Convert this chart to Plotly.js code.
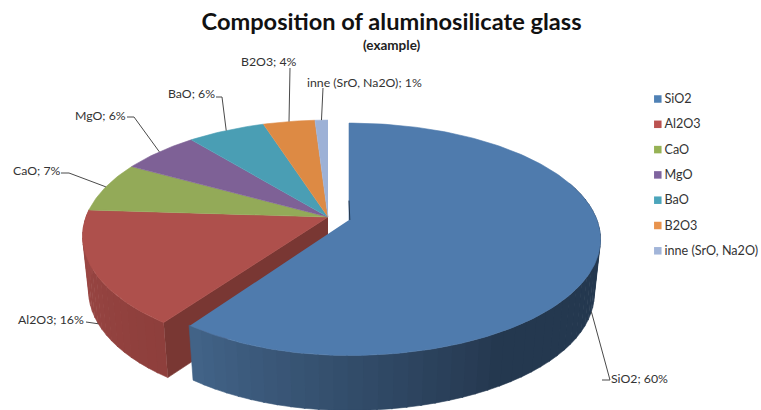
<!DOCTYPE html>
<html><head><meta charset="utf-8">
<script src="https://cdn.plot.ly/plotly-3.0.1.min.js"></script>
<style>html,body{margin:0;padding:0;background:#fff}#c{width:761px;height:410px}</style>
</head><body><div id="c"></div>
<script>
const categories=['SiO2','Al2O3','CaO','MgO','BaO','B2O3','inne (SrO, Na2O)'];
const values=[60,16,7,6,6,4,1];
const topColors=['#4f7bad','#ae504c','#93aa58','#7e6196','#4a9eb4','#dd8a44','#9db1d6'];
const legendColors=['#4f81b5','#bb5250','#96b255','#7f649f','#4ba5bb','#e8934d','#a2b5d9'];
// label box left / centre, elbow point, for each slice (placement only)
const labelX=[610,16.5,11.5,73.5,166.5,240,306];
const labelY=[378,319,170,115,93,61.5,82];
const elbowX=[602,86,61,127,216,290,323];
const elbowY=[380,322,173,117,97,68,88];
const elbowEnd=[610,86,69,134,222,290,323];

const FONT='Lato, "Open Sans", sans-serif', TXT='#333333';
const cx=328, cy=217, K=0.166, S=113, D=55, SHRINK=0.975;
const EX=21, EY=3;           // offset of the pulled-out first slice
const rad=d=>d*Math.PI/180;
function proj(deg,first){
  const u=Math.sin(rad(deg)), v=Math.cos(rad(deg)), w=1+K*v;
  const R=first?(u<0?234:248):242;
  return [(first?cx+EX:cx)+R*u/w, (first?cy+EY:cy)-S*v/w];
}
function low(p,first){
  const ax=first?cx+EX:cx;
  return [ax+(p[0]-ax)*SHRINK, p[1]+D];
}
function mix(a,b,t){
  const h=c=>[1,3,5].map(i=>parseInt(c.substr(i,2),16));
  const A=h(a),B=h(b);
  return 'rgb('+A.map((x,i)=>Math.round(x+(B[i]-x)*t)).join(',')+')';
}
function poly(pts,color){
  return {type:'scatter',mode:'lines',x:pts.map(p=>p[0]),y:pts.map(p=>p[1]),
    fill:'toself',fillcolor:color,line:{color:color,width:0.6},hoverinfo:'skip',showlegend:false};
}
function range(a,b,step){const r=[];const n=Math.max(1,Math.ceil((b-a)/step));
  for(let i=0;i<=n;i++)r.push(a+(b-a)*i/n);return r;}

// slice boundaries
const bounds=[0];values.forEach(v=>bounds.push(bounds[bounds.length-1]+v*3.6));
const traces=[];

// wall of Al2O3: cut face then outer face
const a0=bounds[1], a1=bounds[2];
const apexLow=[cx,cy+D];
traces.push(poly([[cx,cy],proj(a0,false),low(proj(a0,false),false),apexLow],'#793733'));
const alA=range(a0,a1,3);
for(let i=0;i<alA.length-1;i++){
  const p=proj(alA[i],false),q=proj(alA[i+1]+0.3,false);
  traces.push(poly([p,q,low(q,false),low(p,false)],mix('#8e3f3c','#9c4845',i/(alA.length-2))));
}
// top faces of the standing slices
for(let i=1;i<values.length;i++){
  const pts=[[cx,cy]];range(bounds[i],bounds[i+1],1).forEach(a=>pts.push(proj(a,false)));
  traces.push(poly(pts,topColors[i]));
}
// wall of SiO2
const siA=range(70,bounds[1],3);
for(let i=0;i<siA.length-1;i++){
  const p=proj(siA[i],true),q=proj(siA[i+1]+0.3,true);
  const t=(siA[i]-150)/(bounds[1]-150);
  const col=t<0?'#24384f':mix('#263a52','#43658a',t);
  traces.push(poly([p,q,low(q,true),low(p,true)],col));
}
// thin inner edge and top of SiO2
const mid0=proj(0,true), apex=[cx+EX,cy+EY];
const topPts=[apex];range(0,bounds[1],1).forEach(a=>topPts.push(proj(a,true)));
traces.push(poly(topPts,topColors[0]));
traces.push({type:'scatter',mode:'lines',x:[apex[0],apex[0]+0.8],y:[(mid0[1]+apex[1]*4)/5,apex[1]],
  line:{color:'#24384f',width:1},hoverinfo:'skip',showlegend:false});

// leader lines, ending on the rim at each slice's middle angle
const annotations=[];
values.forEach((v,i)=>{
  const mid=(bounds[i]+bounds[i+1])/2, first=i===0;
  let rim=proj(mid,first);
  if(i<2) rim=low(rim,first);
  traces.push({type:'scatter',mode:'lines',
    x:[elbowX[i],elbowEnd[i],rim[0]],
    y:[elbowY[i],elbowY[i],rim[1]],
    line:{color:'#4a4a4a',width:1},hoverinfo:'skip',showlegend:false});
  annotations.push({x:labelX[i],y:labelY[i],xref:'x',yref:'y',xanchor:'left',yanchor:'middle',showarrow:false,
    text:categories[i]+'; '+v+'%',font:{family:FONT,size:12.3,color:TXT},borderpad:0});
});
annotations.push({x:392,y:44.5,xref:'x',yref:'y',xanchor:'center',yanchor:'middle',showarrow:false,
  text:'<b>(example)</b>',font:{family:FONT,size:13.5,color:'#222'}});

// key at the right
const keyY=categories.map((c,i)=>99+i*25.3);
traces.push({type:'scatter',mode:'markers',x:categories.map(()=>657.8),y:keyY,
  marker:{symbol:'square',size:7.5,color:legendColors},
  hoverinfo:'skip',showlegend:false,cliponaxis:false});
traces.push({type:'scatter',mode:'text',x:categories.map(()=>664.5),y:keyY.map(y=>y+1),
  text:categories,textposition:'middle right',
  textfont:{family:FONT,size:12.6,color:TXT},
  hoverinfo:'skip',showlegend:false,cliponaxis:false});

Plotly.newPlot('c',traces,{
  width:761,height:410,margin:{l:0,r:0,t:0,b:0},
  paper_bgcolor:'#fff',plot_bgcolor:'#fff',showlegend:false,
  title:{text:'<b>Composition of aluminosilicate glass</b>',x:0.5145,xanchor:'center',y:0.948,yanchor:'middle',
    font:{family:FONT,size:23.6,color:'#111'}},
  xaxis:{range:[0,761],visible:false,fixedrange:true},
  yaxis:{range:[410,0],visible:false,fixedrange:true},
  annotations:annotations
},{displayModeBar:false,staticPlot:true});
</script></body></html>
